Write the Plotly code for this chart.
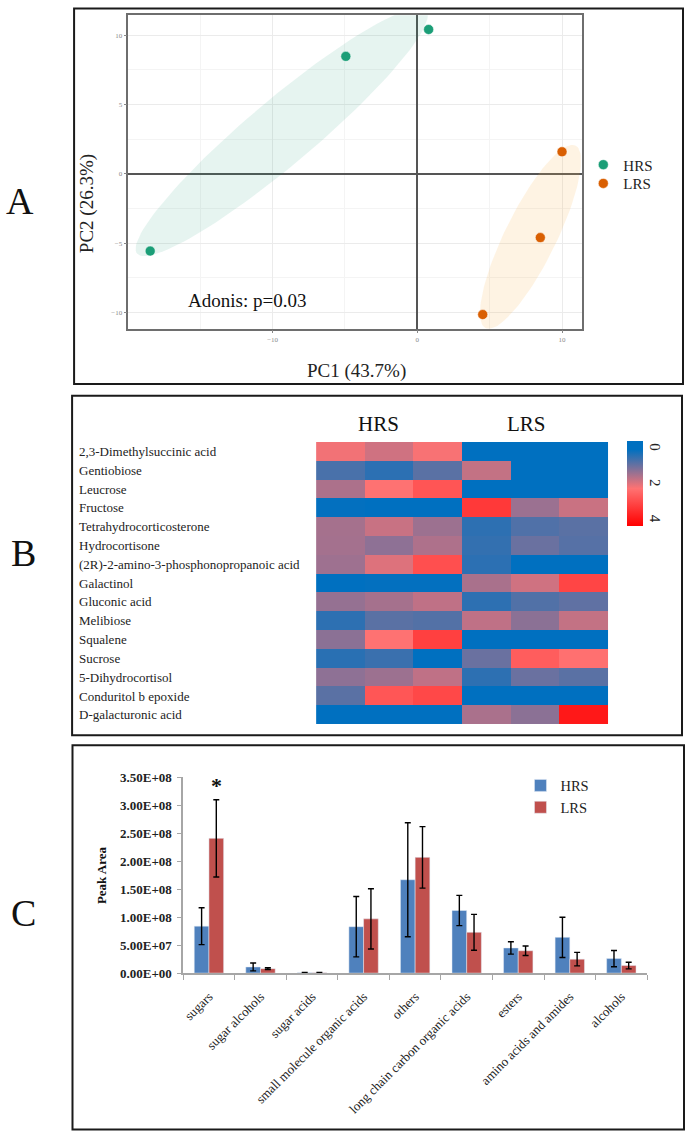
import numpy as np
import plotly.graph_objects as go

# ---------------- data ----------------
# Panel A: PCA scores
hrs_pc1 = [-18.46, -4.94, 0.78]
hrs_pc2 = [-5.57, 8.47, 10.41]
lrs_pc1 = [10.0, 8.5, 4.52]
lrs_pc2 = [1.59, -4.6, -10.15]

# Panel B: heatmap (rows top->bottom, columns HRS1-3, LRS1-3)
metabolites = [
    "2,3-Dimethylsuccinic acid", "Gentiobiose", "Leucrose", "Fructose",
    "Tetrahydrocorticosterone", "Hydrocortisone",
    "(2R)-2-amino-3-phosphonopropanoic acid", "Galactinol", "Gluconic acid",
    "Melibiose", "Squalene", "Sucrose", "5-Dihydrocortisol",
    "Conduritol b epoxide", "D-galacturonic acid",
]
samples = ["HRS1", "HRS2", "HRS3", "LRS1", "LRS2", "LRS3"]
heat_values = [
    [2.1, 1.8, 2.15, 0.0, 0.0, 0.0],
    [0.65, 0.4, 0.8, 1.7, 0.0, 0.0],
    [1.5, 2.2, 2.75, 0.0, 0.0, 0.0],
    [0.05, 0.0, 0.0, 3.25, 1.35, 1.75],
    [1.44, 1.74, 1.36, 0.41, 0.71, 0.8],
    [1.43, 1.24, 1.52, 0.46, 0.93, 0.76],
    [1.38, 1.92, 2.85, 0.4, 0.0, 0.0],
    [0.0, 0.05, 0.05, 1.47, 1.8, 3.03],
    [1.3, 1.44, 1.66, 0.41, 0.72, 0.85],
    [0.41, 0.8, 0.74, 1.66, 1.22, 1.7],
    [1.22, 2.2, 3.12, 0.0, 0.0, 0.0],
    [0.38, 0.52, 0.0, 0.93, 2.6, 2.25],
    [1.24, 1.36, 1.66, 0.41, 0.93, 0.8],
    [0.8, 2.73, 2.98, 0.0, 0.0, 0.0],
    [0.0, 0.0, 0.0, 1.48, 1.22, 3.86],
]
cbar_ticks = [0, 2, 4]

# Panel C: peak areas
classes = ["sugars", "sugar alcohols", "sugar acids", "small molecule organic acids",
           "others", "long chain carbon organic acids", "esters",
           "amino acids and amides", "alcohols"]
hrs_mean = [8.4e7, 1.1e7, 8e5, 8.3e7, 1.67e8, 1.12e8, 4.5e7, 6.4e7, 2.6e7]
hrs_err = [3.3e7, 0.7e7, 5e5, 5.4e7, 1.02e8, 0.27e8, 1.1e7, 3.6e7, 1.45e7]
lrs_mean = [2.41e8, 0.8e7, 8e5, 9.7e7, 2.07e8, 7.3e7, 4.0e7, 2.5e7, 1.35e7]
lrs_err = [0.69e8, 0.15e7, 5e5, 5.4e7, 0.55e8, 3.2e7, 0.85e7, 1.2e7, 0.6e7]
peak_ticks = [0, 5e7, 1e8, 1.5e8, 2e8, 2.5e8, 3e8, 3.5e8]

# ---------------- helpers ----------------
W, H = 685, 1139
def PX(p):
    return p / W
def PY(p):
    return 1 - p / H

SERIF = "Liberation Serif"
GREEN, ORANGE = "#1B9E77", "#D95F02"

def group_ellipse(xs, ys, pad_major=0.8, pad_minor=1.15, n=120):
    P = np.column_stack([xs, ys])
    m = P.mean(axis=0)
    w, V = np.linalg.eigh(np.cov(P.T))
    v1, v2 = V[:, 1], V[:, 0]
    p1 = (P - m) @ v1
    p2 = (P - m) @ v2
    c = m + v1 * (p1.min() + p1.max()) / 2 + v2 * (p2.min() + p2.max()) / 2
    a = (p1.max() - p1.min()) / 2 + pad_major
    b = (p2.max() - p2.min()) / 2 + pad_minor
    t = np.linspace(0, 2 * np.pi, n)
    pts = c + np.outer(a * np.cos(t), v1) + np.outer(b * np.sin(t), v2)
    return pts[:, 0], pts[:, 1]

fig = go.Figure()

# ---------------- Panel A ----------------
for xs, ys, fillc in [(hrs_pc1, hrs_pc2, "rgba(27,158,119,0.11)"),
                      (lrs_pc1, lrs_pc2, "rgba(250,180,80,0.16)")]:
    ex, ey = group_ellipse(xs, ys)
    fig.add_trace(go.Scatter(x=ex, y=ey, mode="lines", fill="toself",
                             fillcolor=fillc, line=dict(width=0),
                             hoverinfo="skip", showlegend=False,
                             xaxis="x", yaxis="y"))

fig.add_trace(go.Scatter(x=hrs_pc1, y=hrs_pc2, mode="markers", name="HRS",
                         marker=dict(color=GREEN, size=10, line=dict(color="white", width=0.5)),
                         xaxis="x", yaxis="y", legend="legend"))
fig.add_trace(go.Scatter(x=lrs_pc1, y=lrs_pc2, mode="markers", name="LRS",
                         marker=dict(color=ORANGE, size=10, line=dict(color="white", width=0.5)),
                         xaxis="x", yaxis="y", legend="legend3"))

# ---------------- Panel B ----------------
zplot = [[-v for v in row] for row in heat_values]
fig.add_trace(go.Heatmap(
    z=zplot, x=samples, y=metabolites, xaxis="x2", yaxis="y2",
    zmin=-4.3, zmax=0.45,
    colorscale=[[0, "#FF0000"], [0.44, "#FF7272"], [0.9, "#0070C0"], [1, "#0070C0"]],
    colorbar=dict(
        x=PX(627), xanchor="left", y=PY(440), yanchor="top",
        thickness=16, len=85, lenmode="pixels", xpad=0, ypad=0,
        outlinewidth=0, ticks="", tickangle=90,
        tickvals=[-t for t in cbar_ticks], ticktext=[str(t) for t in cbar_ticks],
        tickfont=dict(family=SERIF, size=15, color="#222"),
    ),
    hoverinfo="skip",
))

# ---------------- Panel C ----------------
fig.add_trace(go.Bar(x=classes, y=hrs_mean, name="HRS", marker_color="#4F81BD",
                     error_y=dict(type="data", array=hrs_err, color="black", thickness=1.4, width=3),
                     xaxis="x3", yaxis="y3", legend="legend2"))
fig.add_trace(go.Bar(x=classes, y=lrs_mean, name="LRS", marker_color="#C0504D",
                     error_y=dict(type="data", array=lrs_err, color="black", thickness=1.4, width=3),
                     xaxis="x3", yaxis="y3", legend="legend2"))

# ---------------- layout ----------------
grid_axis = dict(showgrid=True, gridcolor="#EBEBEB", gridwidth=1,
                 zeroline=True, zerolinecolor="#555", zerolinewidth=1.8,
                 showline=True, mirror=True, linecolor="#6E6E6E", linewidth=1.5,
                 ticks="outside", ticklen=3, tickcolor="#888",
                 tickfont=dict(size=7, color="#8A8A8A"))

legend_a = dict(xanchor="left", yanchor="middle",
                font=dict(family=SERIF, size=15, color="#222"),
                bgcolor="rgba(0,0,0,0)", borderwidth=0)

fig.update_layout(
    width=W, height=H, margin=dict(l=0, r=0, t=0, b=0),
    paper_bgcolor="white", plot_bgcolor="white",
    barmode="group", bargap=0.43, bargroupgap=0,
    font=dict(family=SERIF, color="#111"),
    xaxis=dict(domain=[PX(126.7), PX(581.7)], range=[-19.97, 11.38], anchor="y",
               tick0=0, dtick=10, minor=dict(dtick=5, showgrid=True, gridcolor="#F4F4F4"),
               **grid_axis),
    yaxis=dict(domain=[PY(326), PY(8.3)], range=[-11.17, 11.44], anchor="x",
               tick0=0, dtick=5, minor=dict(dtick=2.5, showgrid=True, gridcolor="#F4F4F4"),
               **grid_axis),
    xaxis2=dict(domain=[PX(315), PX(608)], anchor="y2", showticklabels=False,
                showgrid=False, zeroline=False, ticks=""),
    yaxis2=dict(domain=[PY(727), PY(440.7)], anchor="x2", autorange="reversed",
                showticklabels=False, showgrid=False, zeroline=False, ticks=""),
    xaxis3=dict(domain=[PX(181.7), PX(647)], anchor="y3", type="category",
                showline=True, linecolor="#A6A6A6", linewidth=1.5,
                ticks="outside", tickson="boundaries", ticklen=5, tickcolor="#A6A6A6",
                tickangle=-45, ticklabelstandoff=9,
                tickfont=dict(family=SERIF, size=13, color="#222"),
                showgrid=False, zeroline=False),
    yaxis3=dict(domain=[PY(979), PY(780.7)], anchor="x3", range=[0, 3.5e8],
                tickvals=peak_ticks, ticktext=[f"{v:.2E}" for v in peak_ticks],
                showline=True, linecolor="#A6A6A6", linewidth=1.5,
                ticks="outside", ticklen=4, tickcolor="#A6A6A6", ticklabelstandoff=3,
                tickfont=dict(family=SERIF, size=13, color="#222", weight="bold"),
                showgrid=False, zeroline=False),
    legend=dict(x=PX(583), y=PY(160), **legend_a),
    legend3=dict(x=PX(583), y=PY(179), **legend_a),
    legend2=dict(x=PX(520), y=PY(800), xanchor="left", yanchor="middle",
                 font=dict(family=SERIF, size=14.5, color="#222"),
                 bgcolor="rgba(0,0,0,0)", borderwidth=0),
)

# panel frames
for x0, y0, x1, y1 in [(72.3, 1.5, 683, 382), (70.3, 394, 682, 738), (70.7, 748, 684, 1137.5)]:
    fig.add_shape(type="rect", xref="paper", yref="paper",
                  x0=PX(x0), x1=PX(x1), y0=PY(y1), y1=PY(y0),
                  line=dict(color="#1A1A1A", width=2), fillcolor="rgba(0,0,0,0)", layer="above")

ann = []
def paper_text(text, px_, py_, size, angle=0, color="#111"):
    ann.append(dict(text=text, x=PX(px_), y=PY(py_), xref="paper", yref="paper",
                    xanchor="center", yanchor="middle", textangle=angle,
                    showarrow=False, font=dict(family=SERIF, size=size, color=color)))

# panel letters
for letter, px_, py_ in [("A", 18, 197), ("B", 22, 553), ("C", 22, 918)]:
    paper_text(letter, px_, py_, 38)
# panel A texts
paper_text("PC2 (26.3%)", 86, 199, 19, angle=-90, color="#222")
paper_text("PC1 (43.7%)", 356, 369, 19, color="#222")
paper_text("Adonis: p=0.03", 246, 297, 19)
# panel C texts
paper_text("<b>Peak Area</b>", 100, 880, 13, angle=-90)

# panel B texts
for name in metabolites:
    ann.append(dict(text=name, x=PX(75), y=name, xref="paper", yref="y2",
                    xanchor="left", yanchor="middle", showarrow=False,
                    font=dict(family=SERIF, size=13, color="#222")))
ann.append(dict(text="HRS", x="HRS2", y=PY(423), xref="x2", yref="paper", xshift=-11,
                xanchor="center", yanchor="middle",
                showarrow=False, font=dict(family=SERIF, size=21, color="#111")))
ann.append(dict(text="LRS", x="LRS2", y=PY(423), xref="x2", yref="paper", xshift=-9,
                xanchor="center", yanchor="middle",
                showarrow=False, font=dict(family=SERIF, size=21, color="#111")))
# significance star
ann.append(dict(text="<b>*</b>", x=classes[0], y=3.42e8, xref="x3", yref="y3", xshift=7.5,
                yshift=-4, xanchor="center", yanchor="middle",
                showarrow=False, font=dict(family=SERIF, size=22, color="#111")))

fig.update_layout(annotations=ann)
fig.write_html("out.html", config={"displayModeBar": False},
               post_script="document.body.style.margin='0px';document.body.style.overflow='hidden';")
